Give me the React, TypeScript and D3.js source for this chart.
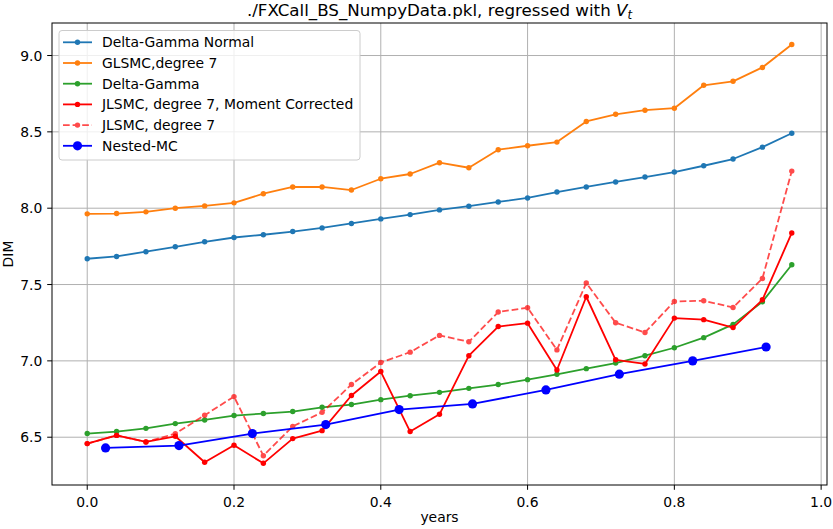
import React from "react";
import * as d3 from "d3";

// time grid for the regression lines
const times = [
  0, 0.04, 0.08, 0.12, 0.16, 0.2, 0.24, 0.28, 0.32, 0.36, 0.4, 0.44, 0.48,
  0.52, 0.56, 0.6, 0.64, 0.68, 0.72, 0.76, 0.8, 0.84, 0.88, 0.92, 0.96,
];
const nestedTimes = [0.025, 0.125, 0.225, 0.325, 0.425, 0.525, 0.625, 0.725, 0.825, 0.925];

const deltaGammaNormal = [
  7.669, 7.684, 7.715, 7.747, 7.78, 7.808, 7.826, 7.847, 7.871, 7.9, 7.93, 7.958, 7.989,
  8.013, 8.041, 8.067, 8.106, 8.139, 8.172, 8.204, 8.237, 8.278, 8.322, 8.4, 8.491,
];
const glsmc = [
  7.963, 7.965, 7.976, 8.0, 8.015, 8.035, 8.095, 8.139, 8.139, 8.119, 8.193, 8.224, 8.298,
  8.265, 8.383, 8.409, 8.433, 8.568, 8.615, 8.642, 8.655, 8.805, 8.831, 8.922, 9.072,
];
const deltaGamma = [
  6.524, 6.537, 6.558, 6.589, 6.613, 6.642, 6.655, 6.668, 6.696, 6.714, 6.746, 6.772, 6.794,
  6.82, 6.845, 6.877, 6.912, 6.949, 6.986, 7.034, 7.086, 7.152, 7.239, 7.387, 7.63,
];
const jlsmcCorrected = [
  6.458, 6.512, 6.469, 6.506, 6.336, 6.447, 6.329, 6.491, 6.543, 6.773, 6.93, 6.537, 6.65,
  7.034, 7.225, 7.247, 6.94, 7.42, 7.007, 6.98, 7.28, 7.27, 7.218, 7.4, 7.838,
];
const jlsmc = [
  6.458, 6.512, 6.469, 6.523, 6.644, 6.766, 6.379, 6.571, 6.663, 6.845, 6.989, 7.057, 7.167,
  7.125, 7.32, 7.348, 7.072, 7.51, 7.25, 7.186, 7.389, 7.394, 7.35, 7.54, 8.243,
];
const nestedMC = [6.43, 6.445, 6.524, 6.583, 6.681, 6.718, 6.81, 6.913, 7.0, 7.091];

const xTicks = [0, 0.2, 0.4, 0.6, 0.8, 1.0];
const yTicks = [6.5, 7.0, 7.5, 8.0, 8.5, 9.0];

const W = 833;
const H = 529;
const margin = { top: 23, right: 6, bottom: 44, left: 52 };
const font = "DejaVu Sans, sans-serif";
const fs = 13.9;

type Series = {
  name: string;
  xs: number[];
  ys: number[];
  color: string;
  dashed?: boolean;
  opacity?: number;
  r: number;
};

const series: Series[] = [
  { name: "Delta-Gamma Normal", xs: times, ys: deltaGammaNormal, color: "#1f77b4", r: 2.7 },
  { name: "GLSMC,degree 7", xs: times, ys: glsmc, color: "#ff7f0e", r: 2.7 },
  { name: "Delta-Gamma", xs: times, ys: deltaGamma, color: "#2ca02c", r: 2.7 },
  { name: "JLSMC, degree 7, Moment Corrected", xs: times, ys: jlsmcCorrected, color: "#ff0000", r: 2.7 },
  { name: "JLSMC, degree 7", xs: times, ys: jlsmc, color: "#ff0000", dashed: true, opacity: 0.7, r: 2.7 },
  { name: "Nested-MC", xs: nestedTimes, ys: nestedMC, color: "#0000ff", r: 4.6 },
];

export default function App() {
  const x = d3.scaleLinear().domain([-0.048, 1.008]).range([margin.left, W - margin.right]);
  const y = d3.scaleLinear().domain([6.187, 9.213]).range([H - margin.bottom, margin.top]);
  const x0 = margin.left;
  const x1 = W - margin.right;
  const y0 = margin.top;
  const y1 = H - margin.bottom;
  const cx = (x0 + x1) / 2;
  const line = d3
    .line<[number, number]>()
    .x((d) => x(d[0]))
    .y((d) => y(d[1]));

  return (
    <svg
      width={W}
      height={H}
      style={{ position: "absolute", left: 0, top: 0, background: "#fff" }}
      fontFamily={font}
    >
      <rect x={0} y={0} width={W} height={H} fill="#fff" />
      {/* grid */}
      <g stroke="#b0b0b0" strokeWidth={1}>
        {xTicks.map((t) => (
          <line key={"gx" + t} x1={x(t)} x2={x(t)} y1={y0} y2={y1} />
        ))}
        {yTicks.map((t) => (
          <line key={"gy" + t} x1={x0} x2={x1} y1={y(t)} y2={y(t)} />
        ))}
      </g>

      {/* lines */}
      {series.map((s) => {
        const pts = s.xs.map((v, i) => [v, s.ys[i]] as [number, number]);
        return (
          <g key={s.name} opacity={s.opacity ?? 1}>
            <path
              d={line(pts) ?? ""}
              fill="none"
              stroke={s.color}
              strokeWidth={1.8}
              strokeDasharray={s.dashed ? "6.7,2.9" : undefined}
              strokeLinejoin="round"
            />
            {pts.map((d, i) => (
              <circle key={i} cx={x(d[0])} cy={y(d[1])} r={s.r} fill={s.color} />
            ))}
          </g>
        );
      })}

      {/* axes frame */}
      <rect x={x0} y={y0} width={x1 - x0} height={y1 - y0} fill="none" stroke="#000" strokeWidth={1} />

      {/* ticks */}
      <g fontSize={fs} fill="#000">
        {xTicks.map((t) => (
          <g key={"tx" + t}>
            <line x1={x(t)} x2={x(t)} y1={y1} y2={y1 + 4.8} stroke="#000" />
            <text x={x(t)} y={y1 + 22} textAnchor="middle">
              {t.toFixed(1)}
            </text>
          </g>
        ))}
        {yTicks.map((t) => (
          <g key={"ty" + t}>
            <line x1={x0 - 4.8} x2={x0} y1={y(t)} y2={y(t)} stroke="#000" />
            <text x={x0 - 9.7} y={y(t) + 5} textAnchor="end">
              {t.toFixed(1)}
            </text>
          </g>
        ))}
      </g>

      {/* labels */}
      <text x={cx} y={H - 7.5} textAnchor="middle" fontSize={fs}>
        years
      </text>
      <text transform={`translate(12.5, ${(y0 + y1) / 2}) rotate(-90)`} textAnchor="middle" fontSize={fs}>
        DIM
      </text>
      <text x={cx} y={16} textAnchor="middle" fontSize={16.7}>
        ./FXCall_BS_NumpyData.pkl, regressed with{" "}
        <tspan fontStyle="italic">V</tspan>
        <tspan fontStyle="italic" fontSize={11.7} dy={3}>
          t
        </tspan>
      </text>

      {/* legend */}
      <g>
        <rect
          x={59}
          y={30.5}
          width={301}
          height={129.5}
          rx={3}
          fill="#fff"
          fillOpacity={0.8}
          stroke="#cccccc"
          strokeWidth={1}
        />
        {series.map((s, i) => {
          const ly = 42.3 + i * 20.7;
          return (
            <g key={"lg" + s.name}>
              <g opacity={s.opacity ?? 1}>
                <line
                  x1={63}
                  x2={92}
                  y1={ly}
                  y2={ly}
                  stroke={s.color}
                  strokeWidth={1.8}
                  strokeDasharray={s.dashed ? "6.7,2.9" : undefined}
                />
                <circle cx={77.5} cy={ly} r={s.r} fill={s.color} />
              </g>
              <text x={102} y={ly + 5} fontSize={fs} fill="#000">
                {s.name}
              </text>
            </g>
          );
        })}
      </g>
    </svg>
  );
}
